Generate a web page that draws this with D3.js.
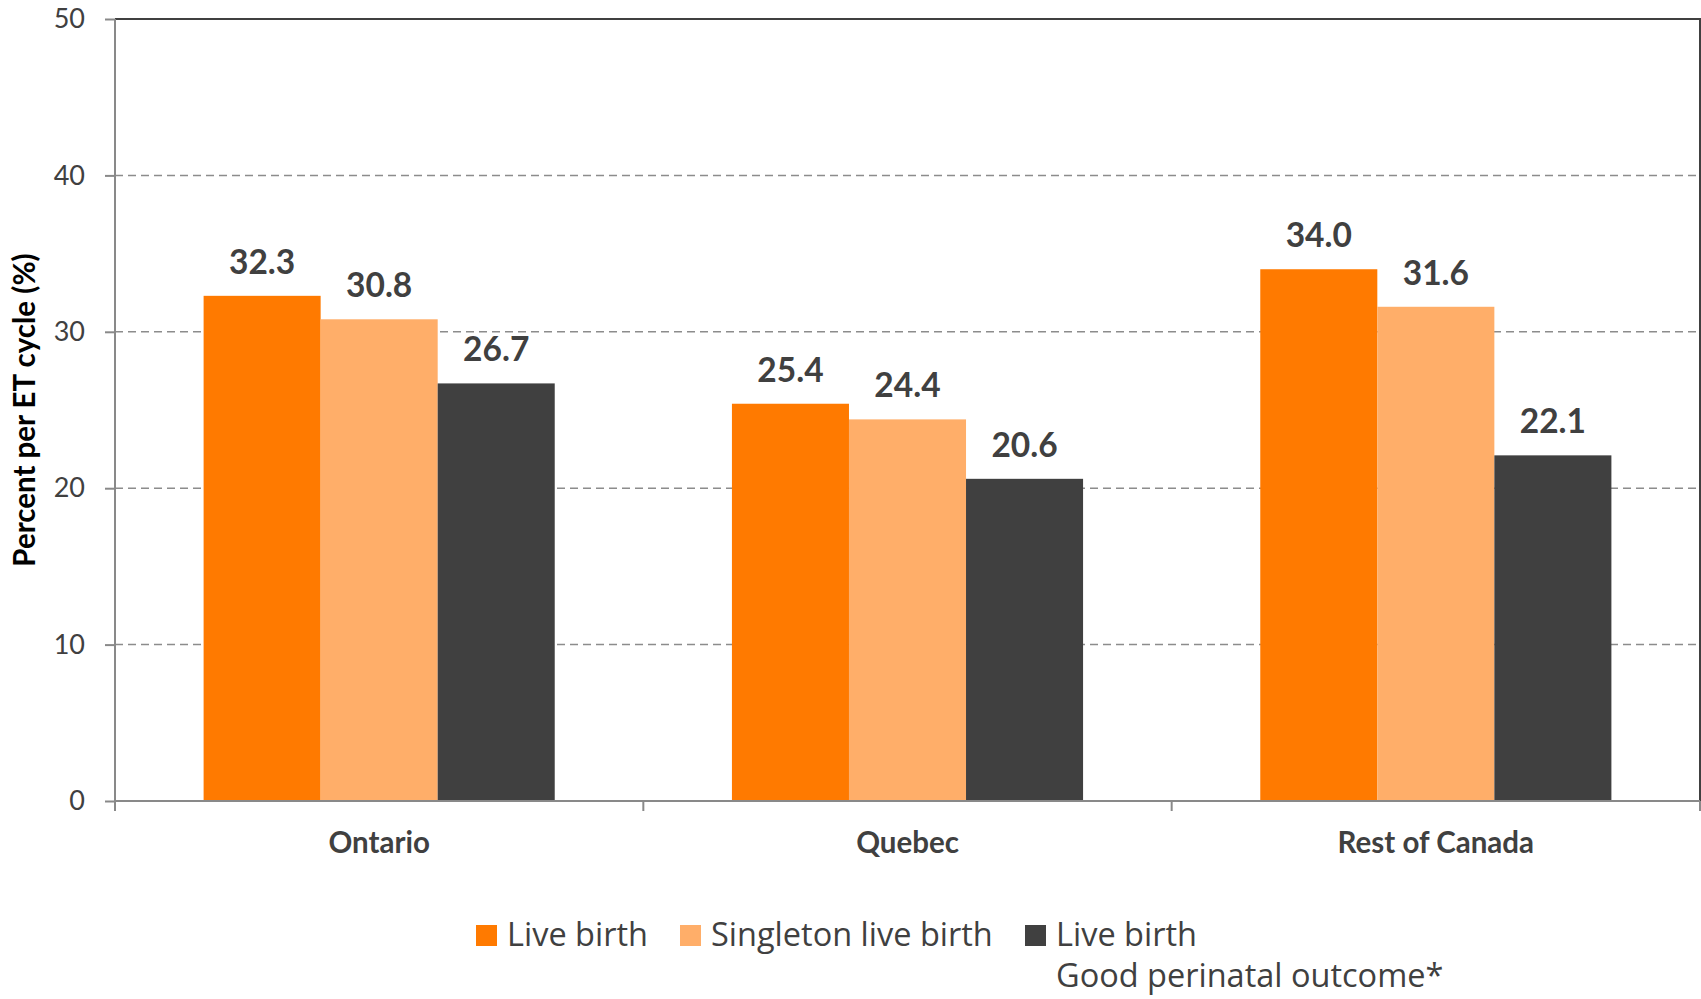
<!DOCTYPE html>
<html><head><meta charset="utf-8">
<script src="https://cdn.jsdelivr.net/npm/d3@7"></script>
<style>body{margin:0;background:#fff}svg{display:block}text{font-family:Lato,"Open Sans",sans-serif}</style>
</head><body>
<script>
const categories = ["Ontario", "Quebec", "Rest of Canada"];
const seriesNames = ["Live birth", "Singleton live birth", "Live birth\nGood perinatal outcome*"];
const liveBirth = [32.3, 25.4, 34.0];
const singletonLiveBirth = [30.8, 24.4, 31.6];
const goodPerinatal = [26.7, 20.6, 22.1];
const yTicks = [0, 10, 20, 30, 40, 50];
const colors = ["#FF7A00", "#FFAE69", "#404040"];

(function () {
const series = [liveBirth, singletonLiveBirth, goodPerinatal];
const W = 1701, H = 999;
const mLeft = 115, mRight = 1700, mTop = 19, mBottom = 801;
const svg = d3.select("body").append("svg").attr("width", W).attr("height", H);

const y = d3.scaleLinear().domain([0, 50]).range([mBottom, mTop]);
const x0 = d3.scaleBand().domain(categories).range([mLeft, mRight]).padding(0);
const gap = x0.bandwidth() * 0.1677;
const x1 = d3.scaleBand().domain(d3.range(series.length)).range([gap, x0.bandwidth() - gap]).padding(0);

// gridlines
svg.append("g").selectAll("line").data(yTicks.filter(t => t > 0 && t < 50)).join("line")
  .attr("x1", mLeft).attr("x2", mRight).attr("y1", d => y(d)).attr("y2", d => y(d))
  .attr("stroke", "#8c8c8c").attr("stroke-width", 1.5).attr("stroke-dasharray", "8,5");

// top and right border
svg.append("path").attr("d", `M${mLeft},${y(50)}H${mRight}V${mBottom}`).attr("fill", "none")
  .attr("stroke", "#404040").attr("stroke-width", 2);

// bars
const rows = categories.map((c, i) => ({c, vals: series.map(s => s[i])}));
const g = svg.append("g").selectAll("g").data(rows).join("g").attr("transform", d => `translate(${x0(d.c)},0)`);
g.selectAll("rect").data(d => d.vals.map((v, k) => ({v, k}))).join("rect")
  .attr("x", d => x1(d.k)).attr("width", x1.bandwidth())
  .attr("y", d => y(d.v)).attr("height", d => y(0) - y(d.v))
  .attr("fill", d => colors[d.k]);
g.selectAll("text").data(d => d.vals.map((v, k) => ({v, k}))).join("text")
  .attr("x", d => x1(d.k) + x1.bandwidth() / 2).attr("y", d => y(d.v) - 22)
  .attr("text-anchor", "middle").attr("font-size", 33.5).attr("font-weight", "bold").attr("fill", "#404040")
  .text(d => d.v.toFixed(1));

// y axis
const yAxis = svg.append("g").attr("transform", `translate(${mLeft},0)`)
  .call(d3.axisLeft(y).tickValues(yTicks).tickSize(10).tickPadding(20).tickFormat(d3.format("d")));
yAxis.select(".domain").attr("d", `M0,${y(50)}V${mBottom + 10}`).attr("stroke", "#898989").attr("stroke-width", 2);
yAxis.selectAll(".tick line").attr("stroke", "#898989").attr("stroke-width", 2);
yAxis.selectAll(".tick text").attr("font-size", 27).attr("fill", "#404040");

// x axis
const xAxis = svg.append("g").attr("transform", `translate(0,${mBottom})`);
xAxis.append("line").attr("x1", mLeft).attr("x2", mRight).attr("stroke", "#898989").attr("stroke-width", 2);
const bounds = categories.map(c => x0(c)).concat([mRight]);
xAxis.selectAll(".b").data(bounds).join("line").attr("class", "b")
  .attr("x1", d => d).attr("x2", d => d).attr("y1", 0).attr("y2", 10)
  .attr("stroke", "#898989").attr("stroke-width", 2);
xAxis.selectAll(".lbl").data(categories).join("text").attr("class", "lbl")
  .attr("x", d => x0(d) + x0.bandwidth() / 2).attr("y", 52)
  .attr("text-anchor", "middle").attr("font-size", 29.5).attr("font-weight", "bold").attr("fill", "#404040")
  .text(d => d);

// y title
svg.append("text").attr("transform", `translate(35,410) rotate(-90)`)
  .attr("text-anchor", "middle").attr("font-size", 29.5).attr("font-weight", "bold").attr("fill", "#000")
  .text("Percent per ET cycle (%)");

// legend
const legX = [476, 680, 1025];
const leg = svg.append("g").selectAll("g").data(seriesNames).join("g")
  .attr("transform", (d, i) => `translate(${legX[i]},925)`);
leg.append("rect").attr("width", 21).attr("height", 21).attr("fill", (d, i) => colors[i]);
leg.append("text").attr("font-size", 32.5).attr("fill", "#404040").style("font-family", "'Open Sans', sans-serif")
  .selectAll("tspan").data(d => d.split("\n")).join("tspan")
  .attr("x", 31).attr("y", (d, i) => 21 + i * 41).text(d => d);
})();
</script>
</body></html>
